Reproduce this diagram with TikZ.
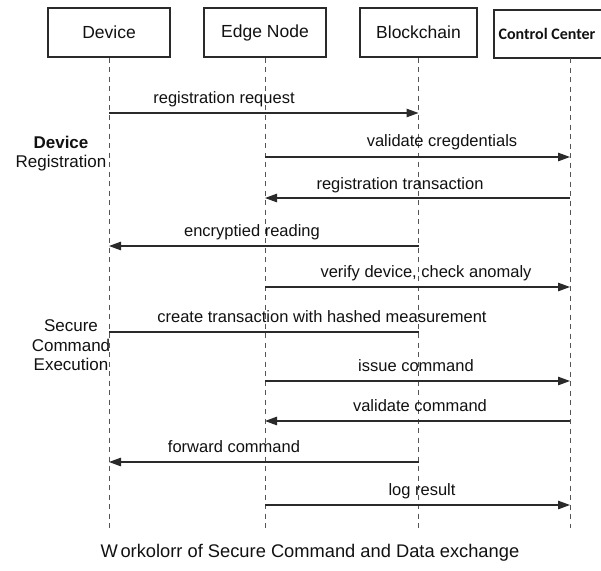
\documentclass[tikz,border=0pt]{standalone}
\usepackage{fontspec}
\setmainfont{Liberation Sans}
\newfontfamily\ccfont{Carlito}
\usetikzlibrary{arrows.meta}
\definecolor{ink}{HTML}{2A2A2A}
\definecolor{txt}{HTML}{111111}
\definecolor{lline}{HTML}{555555}
\begin{document}
\begin{tikzpicture}[x=1pt,y=-1pt,
  actorbox/.style={draw=ink,line width=1.1pt,minimum width=122pt,minimum height=49pt,inner sep=0pt,
    font=\fontsize{17.5}{20}\selectfont,text=txt},
  lifeline/.style={draw=lline,line width=0.9pt,dash pattern=on 5pt off 4.5pt},
  msg/.style={draw=ink,line width=1.2pt,-{Triangle[length=12pt,width=8.5pt]}},
  plainmsg/.style={draw=ink,line width=1.2pt},
  msglabel/.style={anchor=base,font=\fontsize{16.5}{19}\selectfont,text=txt,inner sep=0pt},
  phase/.style={align=center,font=\fontsize{17}{19.5}\selectfont,text=txt,inner sep=0pt},
  caption/.style={font=\fontsize{18.3}{21}\selectfont,text=txt,inner sep=0pt}]
\useasboundingbox (0,0) rectangle (601,570);
% actors
\node[actorbox] (dev) at (109,32.5) {Device};
\node[actorbox] (edge) at (265,32.5) {Edge Node};
\node[actorbox,minimum width=117pt] (bc) at (418.5,32.5) {Blockchain};
\draw[ink,line width=1.1pt] (608,10) -- (494,10) -- (494,58) -- (608,58);
\node[inner sep=0pt,font=\ccfont\bfseries\fontsize{16}{19}\selectfont,text=txt] (cclabel) at (547,34) {Control Center};
\coordinate (cc) at (570,58);
% lifeline ends
\coordinate (endrow) at (0,528);
\draw[lifeline] (dev.south) -- (dev.south |- endrow);
\draw[lifeline] (edge.south) -- (edge.south |- endrow);
\draw[lifeline] (bc.south) -- (bc.south |- endrow);
\draw[lifeline] (cc) -- (cc |- endrow);
% message rows
\coordinate (r1) at (0,113);
\coordinate (r2) at (0,157);
\coordinate (r3) at (0,198);
\coordinate (r4) at (0,246);
\coordinate (r5) at (0,287);
\coordinate (r6) at (0,332);
\coordinate (r7) at (0,381);
\coordinate (r8) at (0,421);
\coordinate (r9) at (0,462);
\coordinate (r10) at (0,505);
\draw[msg] (dev |- r1) -- (bc |- r1);
\draw[msg] (edge |- r2) -- (cc |- r2);
\draw[msg] (cc |- r3) -- (edge |- r3);
\draw[msg] (bc |- r4) -- (dev |- r4);
\draw[msg] (edge |- r5) -- (cc |- r5);
\draw[plainmsg] (dev |- r6) -- (bc |- r6);
\draw[msg] (edge |- r7) -- (cc |- r7);
\draw[msg] (cc |- r8) -- (edge |- r8);
\draw[msg] (bc |- r9) -- (dev |- r9);
\draw[msg] (edge |- r10) -- (cc |- r10);
% labels
\node[msglabel] (l1) at (224,103) {registration request};
\node[msglabel] (l2) at (442,146) {validate cregdentials};
\node[msglabel] (l3) at (400,189) {registration transaction};
\node[msglabel] (l4) at (252,236) {encryptied reading};
\node[msglabel] (l5) at (426,277) {verify device, check anomaly};
\node[msglabel] (l6) at (322,322) {create transaction with hashed measurement};
\node[msglabel] (l7) at (416,371) {issue command};
\node[msglabel] (l8) at (420,411) {validate command};
\node[msglabel] (l9) at (234,452) {forward command};
\node[msglabel] (l10) at (422,495) {log result};
% phases
\node[phase] (ph1) at (61,153.5) {\textbf{Device}\\Registration};
\node[phase] (ph2) at (71,345.5) {Secure\\Command\\Execution};
% caption
\node[caption] (cap) at (310,553) {W\kern2.5pt orkolorr of Secure Command and Data exchange};
\end{tikzpicture}
\end{document}
